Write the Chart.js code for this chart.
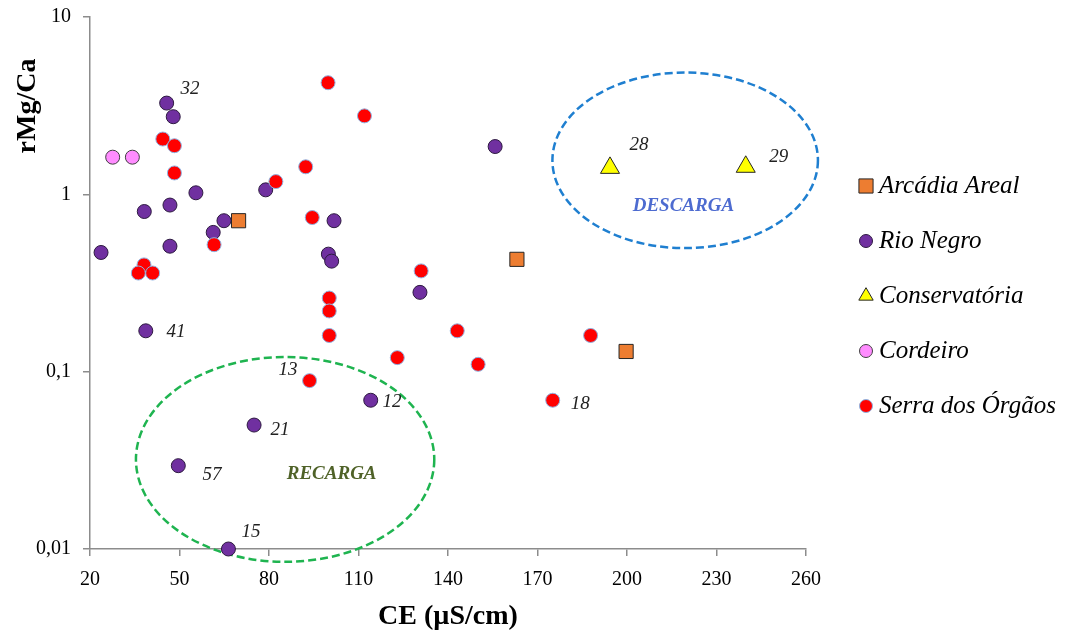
<!DOCTYPE html>
<html>
<head>
<meta charset="utf-8">
<script src="https://cdn.jsdelivr.net/npm/chart.js@4.4.1/dist/chart.umd.min.js"></script>
<style>
  body { margin: 0; background: #fff; }
</style>
</head>
<body>
<canvas id="myChart" width="1070" height="635"></canvas>
<script>
/*--------------------------------------------------------------------------------
----- rMg/Ca vs CE scatter (log y)
--------------------------------------------------------------------------------*/

const serif = "'Liberation Serif', 'Times New Roman', serif";

// x ticks / y ticks
const xMin = 20, xMax = 260, xStep = 30;
const yTickValues = [0.01, 0.1, 1, 10];
const yTickLabels = ['0,01', '0,1', '1', '10'];

// series
const seriesNames = ['Arcádia Areal', 'Rio Negro', 'Conservatória', 'Cordeiro', 'Serra dos Órgãos'];

const arcadiaCE = [69.8, 163.1, 199.7];
const arcadiaMgCa = [0.71, 0.43, 0.13];

const rioNegroCE = [45.7, 47.9, 155.8, 55.5, 78.9, 38.2, 46.8, 64.9, 61.3, 46.8, 23.7, 101.8, 99.9, 101.0, 130.6, 38.7, 114.1, 75.0, 49.6, 66.4];
const rioNegroMgCa = [3.27, 2.74, 1.86, 1.02, 1.06, 0.80, 0.87, 0.71, 0.61, 0.51, 0.47, 0.71, 0.46, 0.42, 0.28, 0.17, 0.069, 0.050, 0.0295, 0.01];

const conservCE = [194.3, 239.8];
const conservMgCa = [1.41, 1.43];

const cordeiroCE = [27.6, 34.2];
const cordeiroMgCa = [1.62, 1.62];

const serraCE = [99.8, 112, 44.4, 48.3, 92.3, 82.3, 48.3, 94.5, 61.6, 38.1, 36.2, 41.0, 131.0, 100.2, 100.2, 100.2, 143.1, 123, 150.1, 93.6, 187.8, 175.1];
const serraMgCa = [4.26, 2.77, 2.05, 1.88, 1.43, 1.18, 1.32, 0.74, 0.52, 0.40, 0.36, 0.36, 0.37, 0.26, 0.22, 0.16, 0.17, 0.12, 0.11, 0.089, 0.16, 0.069];

// sample numbers written next to some points
const sampleLabels = ['32', '41', '13', '12', '18', '21', '57', '15', '28', '29'];
const sampleLabelCE = [53.5, 48.8, 86.4, 121.2, 184.3, 83.7, 60.9, 74.0, 204.0, 250.9];
const sampleLabelMgCa = [3.93, 0.168, 0.1026, 0.0677, 0.066, 0.0471, 0.0263, 0.0124, 1.90, 1.63];

// zones (dashed ellipses)
const zoneNames = ['DESCARGA', 'RECARGA'];
const zoneCE = [219.5, 85.4];
const zoneMgCa = [1.555, 0.032];
const zoneHalfCE = [44.5, 50];
const zoneHalfDecades = [0.495, 0.5775];
const zoneTextCE = [218.9, 101.0];
const zoneTextMgCa = [0.861, 0.0265];
const zoneLineColors = ['#1f7fd0', '#1fb450'];
const zoneTextColors = ['#4d6bd0', '#4f6228'];


function toPoints(xs, ys) {
  return xs.map((v, i) => ({ x: v, y: ys[i] }));
}

// ellipses, zone names, sample numbers
const zonesPlugin = {
  id: 'zones',
  beforeDatasetsDraw(chart) {
    const { ctx, scales: { x, y } } = chart;
    ctx.save();
    zoneNames.forEach((name, i) => {
      const cx = x.getPixelForValue(zoneCE[i]);
      const cy = y.getPixelForValue(zoneMgCa[i]);
      const rx = x.getPixelForValue(zoneCE[i] + zoneHalfCE[i]) - cx;
      const ry = cy - y.getPixelForValue(zoneMgCa[i] * Math.pow(10, zoneHalfDecades[i]));
      ctx.beginPath();
      ctx.setLineDash([8, 4]);
      ctx.lineWidth = 2.5;
      ctx.strokeStyle = zoneLineColors[i];
      ctx.ellipse(cx, cy, rx, ry, 0, 0, Math.PI * 2);
      ctx.stroke();

      ctx.setLineDash([]);
      ctx.font = 'italic bold 19px ' + serif;
      ctx.fillStyle = zoneTextColors[i];
      ctx.textAlign = 'center';
      ctx.textBaseline = 'middle';
      ctx.fillText(name, x.getPixelForValue(zoneTextCE[i]), y.getPixelForValue(zoneTextMgCa[i]));
    });
    ctx.restore();
  },
  afterDatasetsDraw(chart) {
    const { ctx, scales: { x, y } } = chart;
    ctx.save();
    ctx.font = 'italic 19px ' + serif;
    ctx.fillStyle = '#222';
    ctx.textAlign = 'center';
    ctx.textBaseline = 'middle';
    sampleLabels.forEach((t, i) => {
      ctx.fillText(t, x.getPixelForValue(sampleLabelCE[i]), y.getPixelForValue(sampleLabelMgCa[i]));
    });
    ctx.restore();
  }
};

// y title + legend on the right, like the excel sheet
const sideTextPlugin = {
  id: 'sideText',
  afterDraw(chart) {
    const { ctx } = chart;
    ctx.save();
    ctx.translate(28, 106);
    ctx.rotate(-Math.PI / 2);
    ctx.font = 'bold 28px ' + serif;
    ctx.fillStyle = '#000';
    ctx.textAlign = 'center';
    ctx.textBaseline = 'middle';
    ctx.fillText('rMg/Ca', 0, 0);
    ctx.restore();

    ctx.save();
    chart.data.datasets.forEach((ds, i) => {
      const cy = 186 + i * 55;
      ctx.fillStyle = ds.backgroundColor;
      ctx.strokeStyle = ds.borderColor;
      ctx.lineWidth = ds.borderWidth;
      Chart.helpers.drawPoint(ctx, {
        pointStyle: ds.pointStyle,
        radius: ds.legendRadius,
        rotation: 0,
        borderWidth: ds.borderWidth
      }, 866, cy);
      ctx.font = 'italic 25px ' + serif;
      ctx.fillStyle = '#000';
      ctx.textAlign = 'left';
      ctx.textBaseline = 'middle';
      ctx.fillText(ds.label, 879, cy);
    });
    ctx.restore();
  }
};

const ctx = document.getElementById('myChart');

new Chart(ctx, {
  type: 'scatter',
  data: {
    datasets: [{
      label: seriesNames[0],
      data: toPoints(arcadiaCE, arcadiaMgCa),
      pointStyle: 'rect',
      pointRadius: 10,
      legendRadius: 10,
      backgroundColor: '#ED7D31',
      borderColor: '#262626',
      borderWidth: 1,
      order: 5,
      clip: false
    }, {
      label: seriesNames[1],
      data: toPoints(rioNegroCE, rioNegroMgCa),
      pointStyle: 'circle',
      pointRadius: 7,
      legendRadius: 6.5,
      backgroundColor: '#7030A0',
      borderColor: '#2d1a40',
      borderWidth: 1,
      order: 4,
      clip: false
    }, {
      label: seriesNames[2],
      data: toPoints(conservCE, conservMgCa),
      pointStyle: 'triangle',
      pointRadius: 11,
      legendRadius: 8.3,
      backgroundColor: '#FFFF00',
      borderColor: '#262626',
      borderWidth: 1,
      order: 3,
      clip: false
    }, {
      label: seriesNames[3],
      data: toPoints(cordeiroCE, cordeiroMgCa),
      pointStyle: 'circle',
      pointRadius: 7,
      legendRadius: 6.5,
      backgroundColor: '#FF8CFF',
      borderColor: '#404040',
      borderWidth: 1,
      order: 2,
      clip: false
    }, {
      label: seriesNames[4],
      data: toPoints(serraCE, serraMgCa),
      pointStyle: 'circle',
      pointRadius: 7,
      legendRadius: 6.5,
      backgroundColor: '#FF0000',
      borderColor: '#8db3e2',
      borderWidth: 1,
      order: 1,
      clip: false
    }]
  },
  options: {
    responsive: false,
    animation: false,
    layout: {
      padding: { left: 0, right: 264, top: 17, bottom: 0 }
    },
    plugins: {
      tooltip: { enabled: false },
      legend: { display: false }
    },
    scales: {
      x: {
        type: 'linear',
        min: xMin,
        max: xMax,
        afterFit: s => { s.height = 86; },
        ticks: {
          stepSize: xStep,
          color: '#000',
          padding: 12,
          font: { family: serif, size: 20 }
        },
        grid: { drawOnChartArea: false, drawTicks: true, tickLength: 7, color: '#8c8c8c', lineWidth: 1.5 },
        border: { color: '#8c8c8c', width: 1.5 },
        title: {
          display: true,
          text: 'CE (µS/cm)',
          color: '#000',
          font: { family: serif, size: 28, weight: 'bold' },
          padding: { top: 0, bottom: 1 }
        }
      },
      y: {
        type: 'logarithmic',
        min: 0.01,
        max: 10,
        afterFit: s => { s.width = 90; s.paddingTop = 0; s.paddingBottom = 0; },
        afterBuildTicks: s => { s.ticks = yTickValues.map(v => ({ value: v })); },
        ticks: {
          color: '#000',
          padding: 12,
          font: { family: serif, size: 20 },
          callback: (v, i) => yTickLabels[i]
        },
        grid: { drawOnChartArea: false, drawTicks: true, tickLength: 7, color: '#8c8c8c', lineWidth: 1.5 },
        border: { color: '#8c8c8c', width: 1.5 }
      }
    }
  },
  plugins: [zonesPlugin, sideTextPlugin]
});
</script>
</body>
</html>
